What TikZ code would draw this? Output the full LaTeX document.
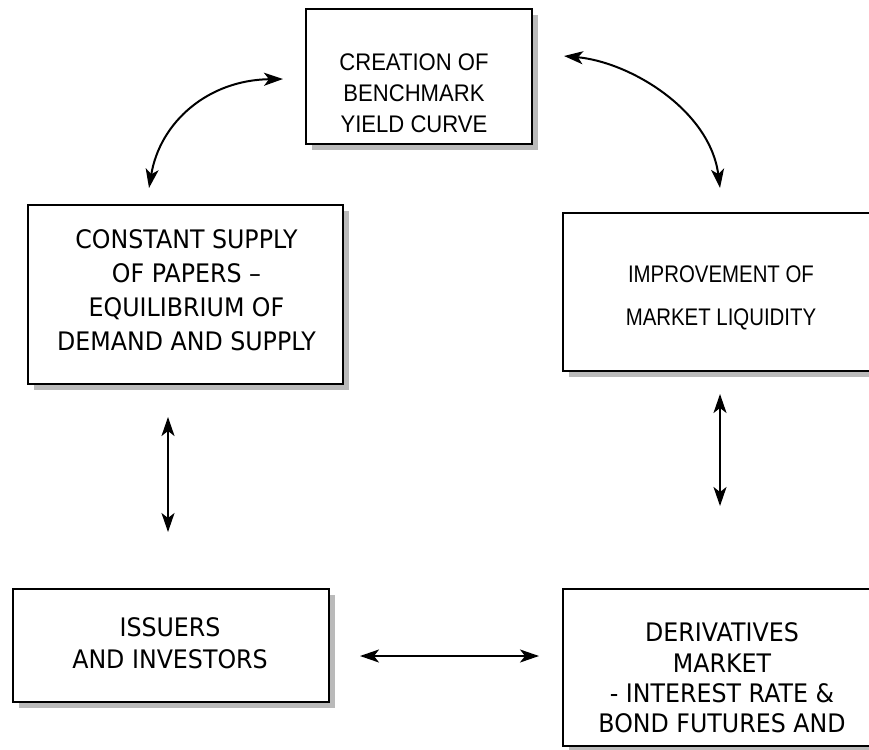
\documentclass[tikz,border=0pt]{standalone}
\usepackage{fontspec}
\setmainfont{DejaVu Sans}
\newfontfamily\narrowa[FakeStretch=0.92]{Liberation Sans}
\newfontfamily\narrowb[FakeStretch=0.85]{Liberation Sans}
\newfontfamily\tahf[FakeStretch=0.93]{DejaVu Sans}
\usetikzlibrary{arrows.meta,shadows}
\begin{document}
\begin{tikzpicture}[x=1pt,y=-1pt,
  box/.style={draw=black, line width=1.8pt, fill=white, rectangle, inner sep=0pt,
    drop shadow={shadow xshift=6pt, shadow yshift=-6pt, fill=black!27, opacity=1}},
  narrowtxt/.style={align=center, inner sep=0pt, font=\narrowa\fontsize{24}{31}\selectfont},
  widetxt/.style={align=center, inner sep=0pt, font=\tahf\fontsize{25.5}{34}\selectfont},
  link/.style={line width=2pt, {Stealth[length=19pt,width=13pt,inset=5pt]}-{Stealth[length=19pt,width=13pt,inset=5pt]}}
]
\useasboundingbox (0,0) rectangle (869,749);
\clip (0,0) rectangle (869,749);
\fill[white] (0,0) rectangle (869,749);

% boxes
\node[box, minimum width=226pt, minimum height=135pt] (topbox) at (419,76.5) {};
\node[box, minimum width=315pt, minimum height=179pt] (leftbox) at (185.5,294.5) {};
\node[box, minimum width=316pt, minimum height=158pt] (rightbox) at (721,292) {};
\node[box, minimum width=316pt, minimum height=113pt] (blbox) at (171,645.5) {};
\node[box, minimum width=316pt, minimum height=157pt] (brbox) at (721,667.5) {};

% texts
\node[narrowtxt] (toptxt) at (414,93) {CREATION OF\\BENCHMARK\\YIELD CURVE};
\node[widetxt] (lefttxt) at (186.5,290.5) {CONSTANT SUPPLY\\OF PAPERS –\\EQUILIBRIUM OF\\DEMAND AND SUPPLY};
\node[narrowtxt, font=\narrowb\fontsize{24}{43}\selectfont] (righttxt) at (721,298) {IMPROVEMENT OF\\MARKET LIQUIDITY};
\node[widetxt, font=\tahf\fontsize{25.5}{32}\selectfont] (bltxt) at (170,643) {ISSUERS\\AND INVESTORS};
\node[widetxt, font=\tahf\fontsize{25.5}{30.3}\selectfont] (brtxt) at (722,678) {DERIVATIVES\\MARKET\\- INTEREST RATE \&\\BOND FUTURES AND};

% connector end points
\coordinate (tlA) at (149,188);
\coordinate (tlB) at (283,79);
\coordinate (trA) at (564,56);
\coordinate (trB) at (720,188);
\coordinate (lvA) at (168,417);
\coordinate (lvB) at (168,532);
\coordinate (rvA) at (720,394);
\coordinate (rvB) at (720,506);
\coordinate (hA) at (360,656);
\coordinate (hB) at (539,656);

% connectors
\draw[link] (tlA) .. controls (160,122) and (208,80) .. (tlB);
\draw[link] (trA) .. controls (630,62) and (710,110) .. (trB);
\draw[link] (lvA) -- (lvB);
\draw[link] (rvA) -- (rvB);
\draw[link] (hA) -- (hB);
\end{tikzpicture}
\end{document}
